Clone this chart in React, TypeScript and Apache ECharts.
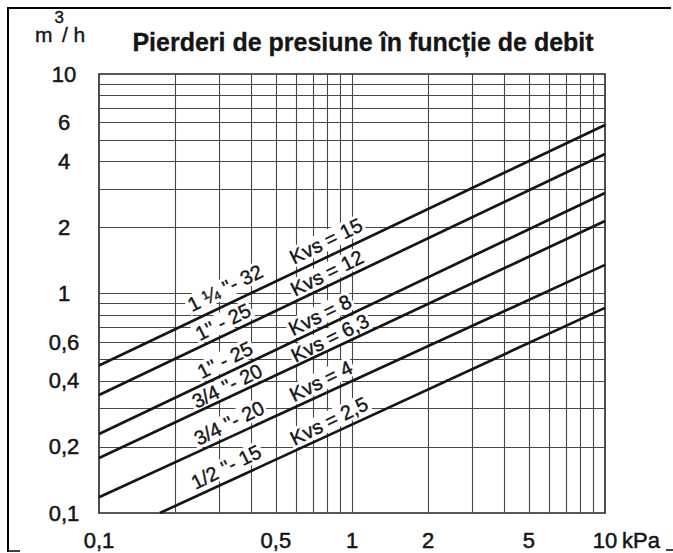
import React, { useEffect, useRef } from "react";
import * as echarts from "echarts";

// ---- data ----
const X_GRID = [0.2, 0.3, 0.4, 0.5, 0.6, 0.7, 0.8, 0.9, 1, 2, 3, 4, 5, 6, 7, 8, 9];
const Y_GRID = [0.2, 0.3, 0.4, 0.5, 0.6, 0.7, 0.8, 0.9, 1, 2, 3, 4, 5, 6, 7, 8, 9];
const X_LABELS = [0.1, 0.5, 1, 2, 5, 10];
const Y_LABELS = [0.1, 0.2, 0.4, 0.6, 1, 2, 4, 6, 10];

const KVS_15 = [[0.1, 0.47], [10, 5.86]];
const KVS_12 = [[0.1, 0.345], [10, 4.32]];
const KVS_8 = [[0.1, 0.229], [10, 2.87]];
const KVS_63 = [[0.1, 0.178], [10, 2.14]];
const KVS_4 = [[0.1, 0.118], [10, 1.35]];
const KVS_25 = [[0.174, 0.1], [10, 0.86]];

const SERIES_NAMES = ["Kvs = 15", "Kvs = 12", "Kvs = 8", "Kvs = 6,3", "Kvs = 4", "Kvs = 2,5"];
const SERIES_DATA = [KVS_15, KVS_12, KVS_8, KVS_63, KVS_4, KVS_25];

const LINE_LABELS = [
  "1 ¼ ''- 32", "Kvs = 15",
  "1'' - 25", "Kvs = 12",
  "1'' - 25", "Kvs = 8",
  "3/4 ''- 20", "Kvs = 6,3",
  "3/4 ''- 20", "Kvs = 4",
  "1/2 ''- 15", "Kvs = 2,5",
];
// annotation centres (px)
const LINE_LABEL_POS = [
  [225, 288], [326, 241],
  [223, 322], [327, 273],
  [225, 360], [320, 315],
  [227, 386], [330, 338],
  [229, 423], [321, 381],
  [226, 467], [329, 421],
];

const fmt = (v: number) => String(v).replace(".", ",");
const FONT = '"Liberation Sans", Arial, Helvetica, sans-serif';
const INK = "#151515";

export default function App() {
  const ref = useRef<HTMLDivElement>(null);
  useEffect(() => {
    document.body.style.margin = "0";
    const chart = echarts.init(ref.current!, null, { renderer: "svg" });
    const option: any = {
      animation: false,
      backgroundColor: "#fff",
      grid: {
        left: 99, top: 74, width: 506, height: 439,
        show: true, borderColor: "#222", borderWidth: 1.6, backgroundColor: "transparent",
      },
      xAxis: {
        type: "log", logBase: 10, min: 0.1, max: 10,
        axisLine: { show: false }, axisTick: { show: false },
        axisLabel: { show: false }, splitLine: { show: false },
      },
      yAxis: {
        type: "log", logBase: 10, min: 0.1, max: 10,
        axisLine: { show: false }, axisTick: { show: false },
        axisLabel: { show: false }, splitLine: { show: false },
      },
      series: [
        {
          type: "line",
          name: "grid",
          data: [],
          z: 1,
          silent: true,
          markLine: {
            z: 1,
            silent: true,
            symbol: ["none", "none"],
            label: { show: false },
            lineStyle: { color: "#474747", width: 1.1, type: "solid" },
            emphasis: { disabled: true },
            data: [
              ...X_GRID.map((v) => ({ xAxis: v })),
              ...Y_GRID.map((v) => ({ yAxis: v })),
            ],
          },
        },
        ...SERIES_DATA.map((d, i) => ({
          type: "line",
          name: SERIES_NAMES[i],
          data: d,
          z: 5,
          symbol: "none",
          silent: true,
          lineStyle: { color: INK, width: 2.7 },
        })),
      ],
    };
    chart.setOption(option);

    const ts = (font: string, extra: any = {}) => ({ font, fill: INK, stroke: INK, lineWidth: 0.5, ...extra });
    const g: any[] = [];
    // outer frame
    g.push({ type: "line", shape: { x1: 7, y1: 8, x2: 671, y2: 8 }, style: { stroke: "#000", lineWidth: 2 } });
    g.push({ type: "line", shape: { x1: 8, y1: 7, x2: 8, y2: 552 }, style: { stroke: "#000", lineWidth: 2 } });
    g.push({ type: "line", shape: { x1: 7, y1: 551, x2: 20, y2: 551 }, style: { stroke: "#000", lineWidth: 1.5 } });
    g.push({ type: "line", shape: { x1: 666, y1: 550, x2: 673, y2: 550 }, style: { stroke: "#000", lineWidth: 1.5 } });
    // unit (m³/h) as one rich text
    g.push({
      type: "text", x: 35, y: 9,
      style: {
        text: "{m|m}{s|3}{h|/ h}",
        verticalAlign: "top",
        rich: {
          m: { font: `21px ${FONT}`, fill: INK, stroke: INK, lineWidth: 0.4, verticalAlign: "bottom", lineHeight: 36, padding: [0, 2, 0, 0] },
          s: { font: `17px ${FONT}`, fill: INK, stroke: INK, lineWidth: 0.4, verticalAlign: "top", lineHeight: 36 },
          h: { font: `21px ${FONT}`, fill: INK, stroke: INK, lineWidth: 0.4, verticalAlign: "bottom", lineHeight: 36, padding: [0, 0, 0, -2] },
        },
      },
    });
    g.push({
      type: "text", x: 363, y: 42,
      style: ts(`bold 25px ${FONT}`, { text: "Pierderi de presiune în funcție de debit", align: "center", verticalAlign: "middle", lineWidth: 0.3 }),
    });
    // axis labels through the scales
    Y_LABELS.forEach((v) => {
      const py = chart.convertToPixel({ yAxisIndex: 0 }, v) as number;
      g.push({ type: "text", x: 64, y: py, style: ts(`22px ${FONT}`, { text: fmt(v), align: "center", verticalAlign: "middle" }) });
    });
    X_LABELS.forEach((v) => {
      const px = chart.convertToPixel({ xAxisIndex: 0 }, v) as number;
      g.push({ type: "text", x: px, y: 540, style: ts(`22px ${FONT}`, { text: fmt(v), align: "center", verticalAlign: "middle" }) });
    });
    const p10 = chart.convertToPixel({ xAxisIndex: 0 }, 10) as number;
    g.push({ type: "text", x: p10 + 17, y: 540, style: ts(`22px ${FONT}`, { text: "kPa", align: "left", verticalAlign: "middle" }) });
    // line annotations
    const rot = (26.5 * Math.PI) / 180;
    LINE_LABELS.forEach((t, i) => {
      g.push({
        type: "text", x: LINE_LABEL_POS[i][0], y: LINE_LABEL_POS[i][1], rotation: rot, z: 3,
        style: ts(`20px ${FONT}`, {
          text: t, align: "center", verticalAlign: "middle", lineWidth: 0.4,
          backgroundColor: "#fff", padding: [0, 2],
        }),
      });
    });
    chart.setOption({ graphic: g });
    return () => chart.dispose();
  }, []);
  return <div ref={ref} style={{ width: 673, height: 553 }} />;
}
